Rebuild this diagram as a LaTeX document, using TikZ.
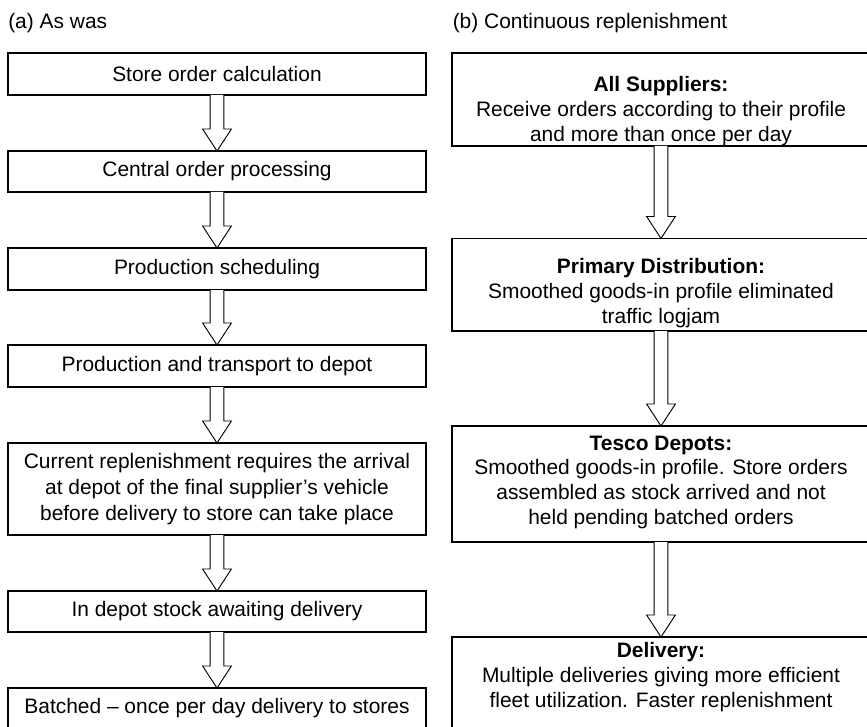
\documentclass[tikz,border=0pt]{standalone}
\usepackage{fontspec}
\setmainfont{Liberation Sans}
\newcommand\txtfont{\fontsize{15.7pt}{18.6pt}\selectfont}
\newcommand\widefont{\fontsize{15.7pt}{19.3pt}\selectfont}
\tikzset{
  box/.style={draw, line width=0.9pt, outer sep=0pt, inner sep=0pt, align=center, font=\txtfont, minimum width=313.5pt},
  txt/.style={inner sep=0pt, align=center, font=\txtfont},
  barrow/.style={draw, line width=0.7pt, fill=white, line join=miter},
}
\newcommand\blockarrow[2]{%
  \draw[barrow] ([xshift=-5.1pt]#1.south) -- ([xshift=-5.1pt,yshift=16.5pt]#2.north)
    -- ([xshift=-10.8pt,yshift=16.5pt]#2.north) -- (#2.north)
    -- ([xshift=10.8pt,yshift=16.5pt]#2.north) -- ([xshift=5.1pt,yshift=16.5pt]#2.north)
    -- ([xshift=5.1pt]#1.south);}
\begin{document}
\begin{tikzpicture}[x=0.75pt,y=-0.75pt]
\useasboundingbox (0,0) rectangle (867,727);
\clip (0,0) rectangle (867,727);
\node[txt, anchor=base west] (ta) at (8,29) {(a) As was};
\node[txt, anchor=base west] (tb) at (452.5,29) {(b) Continuous replenishment};

\node[box, minimum height=31.5pt] (l1) at (217,74) {Store order calculation};
\node[box, minimum height=30.75pt] (l2) at (217,171.5) {Central order processing};
\node[box, minimum height=31.5pt] (l3) at (217,269) {Production scheduling};
\node[box, minimum height=31.5pt] (l4) at (217,366) {Production and transport to depot};
\node[box, minimum height=69pt, font=\widefont] (l5) at (217,489) {Current replenishment requires the arrival\\at depot of the final supplier’s vehicle\\before delivery to store can take place};
\node[box, minimum height=30.75pt] (l6) at (217,611.5) {In depot stock awaiting delivery};
\node[box, minimum height=30.75pt] (l7) at (217,708.5) {Batched – once per day delivery to stores};

\node[box, minimum height=69.75pt] (r1) at (661,99.5) {};
\node[txt, anchor=north] (r1t) at (661,76) {\textbf{All Suppliers:}\\Receive orders according to their profile\\and more than once per day};
\node[box, minimum height=69.4pt] (r2) at (661,284.75) {};
\node[txt, anchor=north] (r2t) at (661,258) {\textbf{Primary Distribution:}\\Smoothed goods-in profile eliminated\\traffic logjam};
\node[box, minimum height=87pt] (r3) at (661,484) {};
\node[txt, anchor=north] (r3t) at (661,435.5) {\textbf{Tesco Depots:}\\Smoothed goods-in profile. Store orders\\assembled as stock arrived and not\\held pending batched orders};
\node[box, minimum height=87pt] (r4) at (661,695) {};
\node[txt, anchor=north] (r4t) at (661,642) {\textbf{Delivery:}\\Multiple deliveries giving more efficient\\fleet utilization. Faster replenishment};

\blockarrow{l1}{l2}
\blockarrow{l2}{l3}
\blockarrow{l3}{l4}
\blockarrow{l4}{l5}
\blockarrow{l5}{l6}
\blockarrow{l6}{l7}
\blockarrow{r1}{r2}
\blockarrow{r2}{r3}
\blockarrow{r3}{r4}
\end{tikzpicture}
\end{document}
